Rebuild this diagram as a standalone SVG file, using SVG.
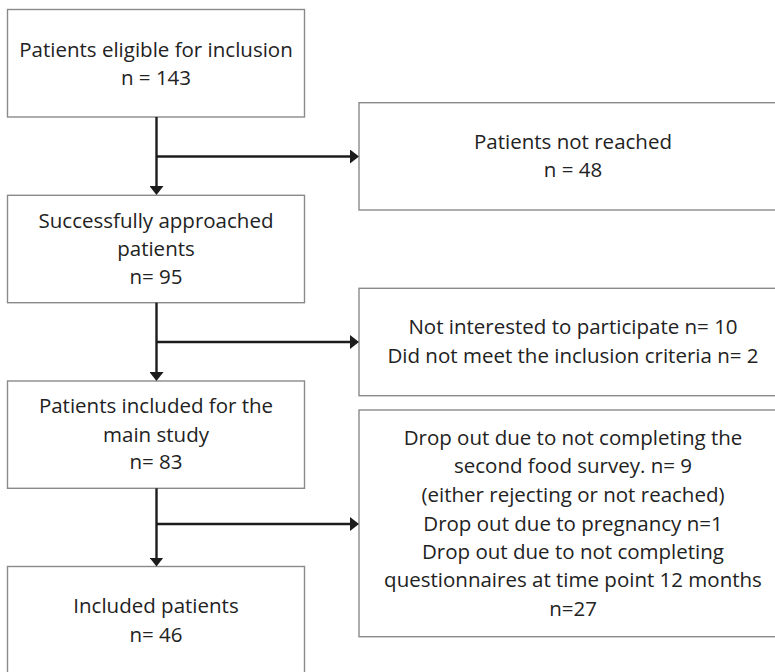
<svg xmlns="http://www.w3.org/2000/svg" width="775" height="672" viewBox="0 0 775 672">
  <style>
    .box { fill: #ffffff; stroke: #8a8a8a; stroke-width: 1.4; }
    .lbl { font-family: "Open Sans", "Liberation Sans", sans-serif; font-size: 20.5px; fill: #222222; text-anchor: middle; }
    .flow { fill: none; stroke: #1c1c1c; stroke-width: 2.4; }
  </style>
  <defs>
    <marker id="head" viewBox="0 0 9 14" refX="2" refY="7" markerWidth="9" markerHeight="14" markerUnits="userSpaceOnUse" orient="auto">
      <path d="M0,0 L9,7 L0,14 z" fill="#1c1c1c"/>
    </marker>
  </defs>
  <rect width="775" height="672" fill="#ffffff"/>

  <!-- main column -->
  <g id="eligible">
    <rect class="box" x="7.5" y="9.5" width="297" height="107.5"/>
    <text class="lbl" x="156" y="57">Patients eligible for inclusion</text>
    <text class="lbl" x="156" y="84.5">n = 143</text>
  </g>
  <g id="approached">
    <rect class="box" x="7.5" y="195.3" width="297" height="107.4"/>
    <text class="lbl" x="156" y="228.3">Successfully approached</text>
    <text class="lbl" x="156" y="256">patients</text>
    <text class="lbl" x="156" y="284">n= 95</text>
  </g>
  <g id="included-main">
    <rect class="box" x="7.5" y="381" width="297" height="107.3"/>
    <text class="lbl" x="156" y="413.3">Patients included for the</text>
    <text class="lbl" x="156" y="441.7">main study</text>
    <text class="lbl" x="156" y="469.3">n= 83</text>
  </g>
  <g id="included-final">
    <rect class="box" x="7.5" y="566.5" width="297" height="120"/>
    <text class="lbl" x="156" y="613">Included patients</text>
    <text class="lbl" x="156" y="641.7">n= 46</text>
  </g>

  <!-- exclusion column -->
  <g id="not-reached">
    <rect class="box" x="359" y="102.7" width="440" height="107.3"/>
    <text class="lbl" x="573" y="149">Patients not reached</text>
    <text class="lbl" x="573" y="177">n = 48</text>
  </g>
  <g id="declined">
    <rect class="box" x="359" y="288.3" width="440" height="107.4"/>
    <text class="lbl" x="573" y="334.3">Not interested to participate n= 10</text>
    <text class="lbl" x="573" y="362.7">Did not meet the inclusion criteria n= 2</text>
  </g>
  <g id="dropouts">
    <rect class="box" x="359" y="410" width="440" height="226.7"/>
    <text class="lbl" x="573" y="445">Drop out due to not completing the</text>
    <text class="lbl" x="573" y="473.3">second food survey. n= 9</text>
    <text class="lbl" x="573" y="501.7">(either rejecting or not reached)</text>
    <text class="lbl" x="573" y="530.5">Drop out due to pregnancy n=1</text>
    <text class="lbl" x="573" y="559">Drop out due to not completing</text>
    <text class="lbl" x="573" y="587">questionnaires at time point 12 months</text>
    <text class="lbl" x="573" y="615.7">n=27</text>
  </g>

  <!-- connectors -->
  <g id="connectors">
    <line class="flow" x1="156.5" y1="117" x2="156.5" y2="188" marker-end="url(#head)"/>
    <line class="flow" x1="156.5" y1="156.5" x2="352" y2="156.5" marker-end="url(#head)"/>
    <line class="flow" x1="156.5" y1="302.7" x2="156.5" y2="374" marker-end="url(#head)"/>
    <line class="flow" x1="156.5" y1="342" x2="352" y2="342" marker-end="url(#head)"/>
    <line class="flow" x1="156.5" y1="488.3" x2="156.5" y2="559.5" marker-end="url(#head)"/>
    <line class="flow" x1="156.5" y1="524" x2="352" y2="524" marker-end="url(#head)"/>
  </g>
</svg>
